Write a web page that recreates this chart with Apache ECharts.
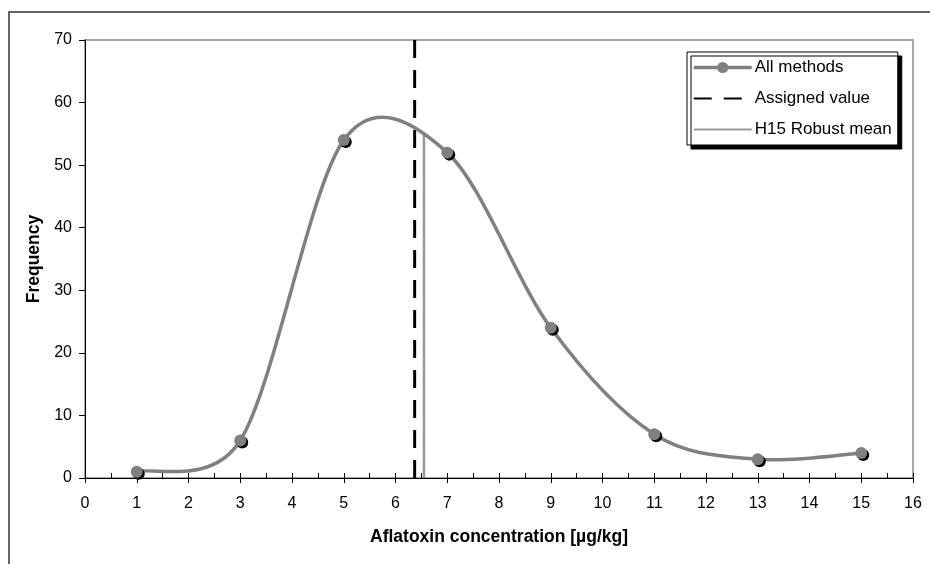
<!DOCTYPE html>
<html>
<head>
  <meta charset="utf-8" />
  <title>Aflatoxin frequency</title>
  <script src="https://cdn.jsdelivr.net/npm/echarts@6/dist/echarts.min.js"></script>
</head>
<style>
  body { margin: 0; padding: 0; overflow: hidden; background: #fff; }
</style>
<body>
  <div id="main" style="width: 930px;height: 564px;"></div>
  <script type="text/javascript">
    // data
    const concentration = [1, 3, 5, 7, 9, 11, 13, 15];
    const frequency = [1, 6, 54, 52, 24, 7, 3, 4];
    const assignedValue = 6.37;
    const robustMean = 6.55;
    const robustMeanTop = 55;
    const seriesNames = ['All methods', 'Assigned value', 'H15 Robust mean'];

    const myChart = echarts.init(document.getElementById('main'));
    const font = 'Liberation Sans, Arial, sans-serif';
    const curveColor = '#808080';

    function dist(a, b) {
      return Math.sqrt((a[0] - b[0]) * (a[0] - b[0]) + (a[1] - b[1]) * (a[1] - b[1]));
    }

    // spreadsheet-style smoothed line through the points (bezier, tension 1/6)
    function renderCurve(params, api) {
      if (params.dataIndex !== 0) return;
      const pts = concentration.map((c, i) => api.coord([c, frequency[i]]));
      let d = 'M' + pts[0][0] + ' ' + pts[0][1];
      for (let i = 0; i < pts.length - 1; i++) {
        const p0 = pts[Math.max(i - 1, 0)];
        const p1 = pts[i];
        const p2 = pts[i + 1];
        const p3 = pts[Math.min(i + 2, pts.length - 1)];
        const d02 = dist(p0, p2), d12 = dist(p1, p2), d13 = dist(p1, p3);
        let f = 1 / 6, g = 1 / 6;
        if (d02 > 0 && d02 / 6 >= d12 / 2) f = d12 / (2 * d02);
        if (d13 > 0 && d13 / 6 >= d12 / 2) g = d12 / (2 * d13);
        const c1 = [p1[0] + (p2[0] - p0[0]) * f, p1[1] + (p2[1] - p0[1]) * f];
        const c2 = [p2[0] - (p3[0] - p1[0]) * g, p2[1] - (p3[1] - p1[1]) * g];
        d += ' C' + c1[0] + ' ' + c1[1] + ' ' + c2[0] + ' ' + c2[1] + ' ' + p2[0] + ' ' + p2[1];
      }
      return {
        type: 'path',
        shape: { pathData: d },
        style: { fill: 'none', stroke: curveColor, lineWidth: 3.5 }
      };
    }

    const option = {
      backgroundColor: '#fff',
      animation: false,
      graphic: [{
        type: 'rect',
        shape: { x: 9, y: 12, width: 960, height: 600 },
        style: { fill: 'none', stroke: '#333', lineWidth: 1.5 },
        silent: true
      }],
      grid: {
        left: 85, top: 40, right: 17, bottom: 86,
        show: true, borderColor: '#a6a6a6', borderWidth: 2
      },
      legend: {
        orient: 'vertical',
        left: 687, top: 52,
        padding: [7, 6, 7, 5],
        itemWidth: 58, itemHeight: 14, itemGap: 14,
        backgroundColor: '#fff',
        borderColor: '#000', borderWidth: 1,
        shadowColor: '#000', shadowBlur: 0, shadowOffsetX: 4, shadowOffsetY: 4,
        textStyle: { fontFamily: font, fontSize: 17, color: '#000', padding: [0, 0, 0, -2] },
        data: [
          { name: seriesNames[0], lineStyle: { color: curveColor, width: 3.5, opacity: 1 } },
          { name: seriesNames[1], itemStyle: { opacity: 0 } },
          { name: seriesNames[2], itemStyle: { opacity: 0 } }
        ]
      },
      xAxis: [{
        type: 'value', min: 0, max: 16, interval: 1,
        name: 'Aflatoxin concentration [µg/kg]',
        nameLocation: 'middle', nameGap: 50,
        nameTextStyle: { fontFamily: font, fontSize: 17.5, fontWeight: 'bold', color: '#000' },
        axisLine: { show: true, onZero: false, lineStyle: { color: '#000', width: 1 } },
        axisTick: { show: true, inside: true, length: 5, lineStyle: { color: '#000' } },
        minorTick: { show: true, splitNumber: 2, length: 5, lineStyle: { color: '#000' } },
        axisLabel: { fontFamily: font, fontSize: 16, color: '#000', margin: 18 },
        splitLine: { show: false }
      }, {
        type: 'value', min: 0, max: 16, interval: 1, position: 'bottom',
        axisLine: { show: false },
        axisTick: { show: true, inside: false, length: 5, lineStyle: { color: '#000' } },
        axisLabel: { show: false },
        splitLine: { show: false }
      }],
      yAxis: {
        type: 'value', min: 0, max: 70, interval: 10,
        name: 'Frequency',
        nameLocation: 'middle', nameGap: 42,
        nameTextStyle: { fontFamily: font, fontSize: 17.5, fontWeight: 'bold', color: '#000' },
        axisLine: { show: true, lineStyle: { color: '#000', width: 1 } },
        axisTick: { show: true, inside: false, length: 6, lineStyle: { color: '#000' } },
        axisLabel: { fontFamily: font, fontSize: 16, color: '#000', margin: 13 },
        splitLine: { show: false }
      },
      series: [{
        name: seriesNames[1],
        type: 'line',
        symbol: 'none',
        lineStyle: { color: '#000', width: 3, type: [18, 12] },
        itemStyle: { color: '#000' },
        data: [[assignedValue, 0], [assignedValue, 70]],
        z: 2
      }, {
        name: seriesNames[2],
        type: 'line',
        symbol: 'none',
        lineStyle: { color: '#999', width: 2.5 },
        itemStyle: { color: '#999' },
        data: [[robustMean, 0], [robustMean, robustMeanTop]],
        z: 2
      }, {
        type: 'custom',
        renderItem: renderCurve,
        encode: { x: 0, y: 1 },
        data: concentration.map((c, i) => [c, frequency[i]]),
        silent: true,
        z: 3
      }, {
        name: seriesNames[0],
        type: 'line',
        symbol: 'circle',
        symbolSize: 12,
        lineStyle: { color: curveColor, width: 3.5, opacity: 0 },
        itemStyle: { color: curveColor, shadowColor: '#000', shadowBlur: 0, shadowOffsetX: 2, shadowOffsetY: 2 },
        data: concentration.map((c, i) => [c, frequency[i]]),
        z: 4
      }]
    };
    myChart.setOption(option);
  </script>
</body>
</html>
